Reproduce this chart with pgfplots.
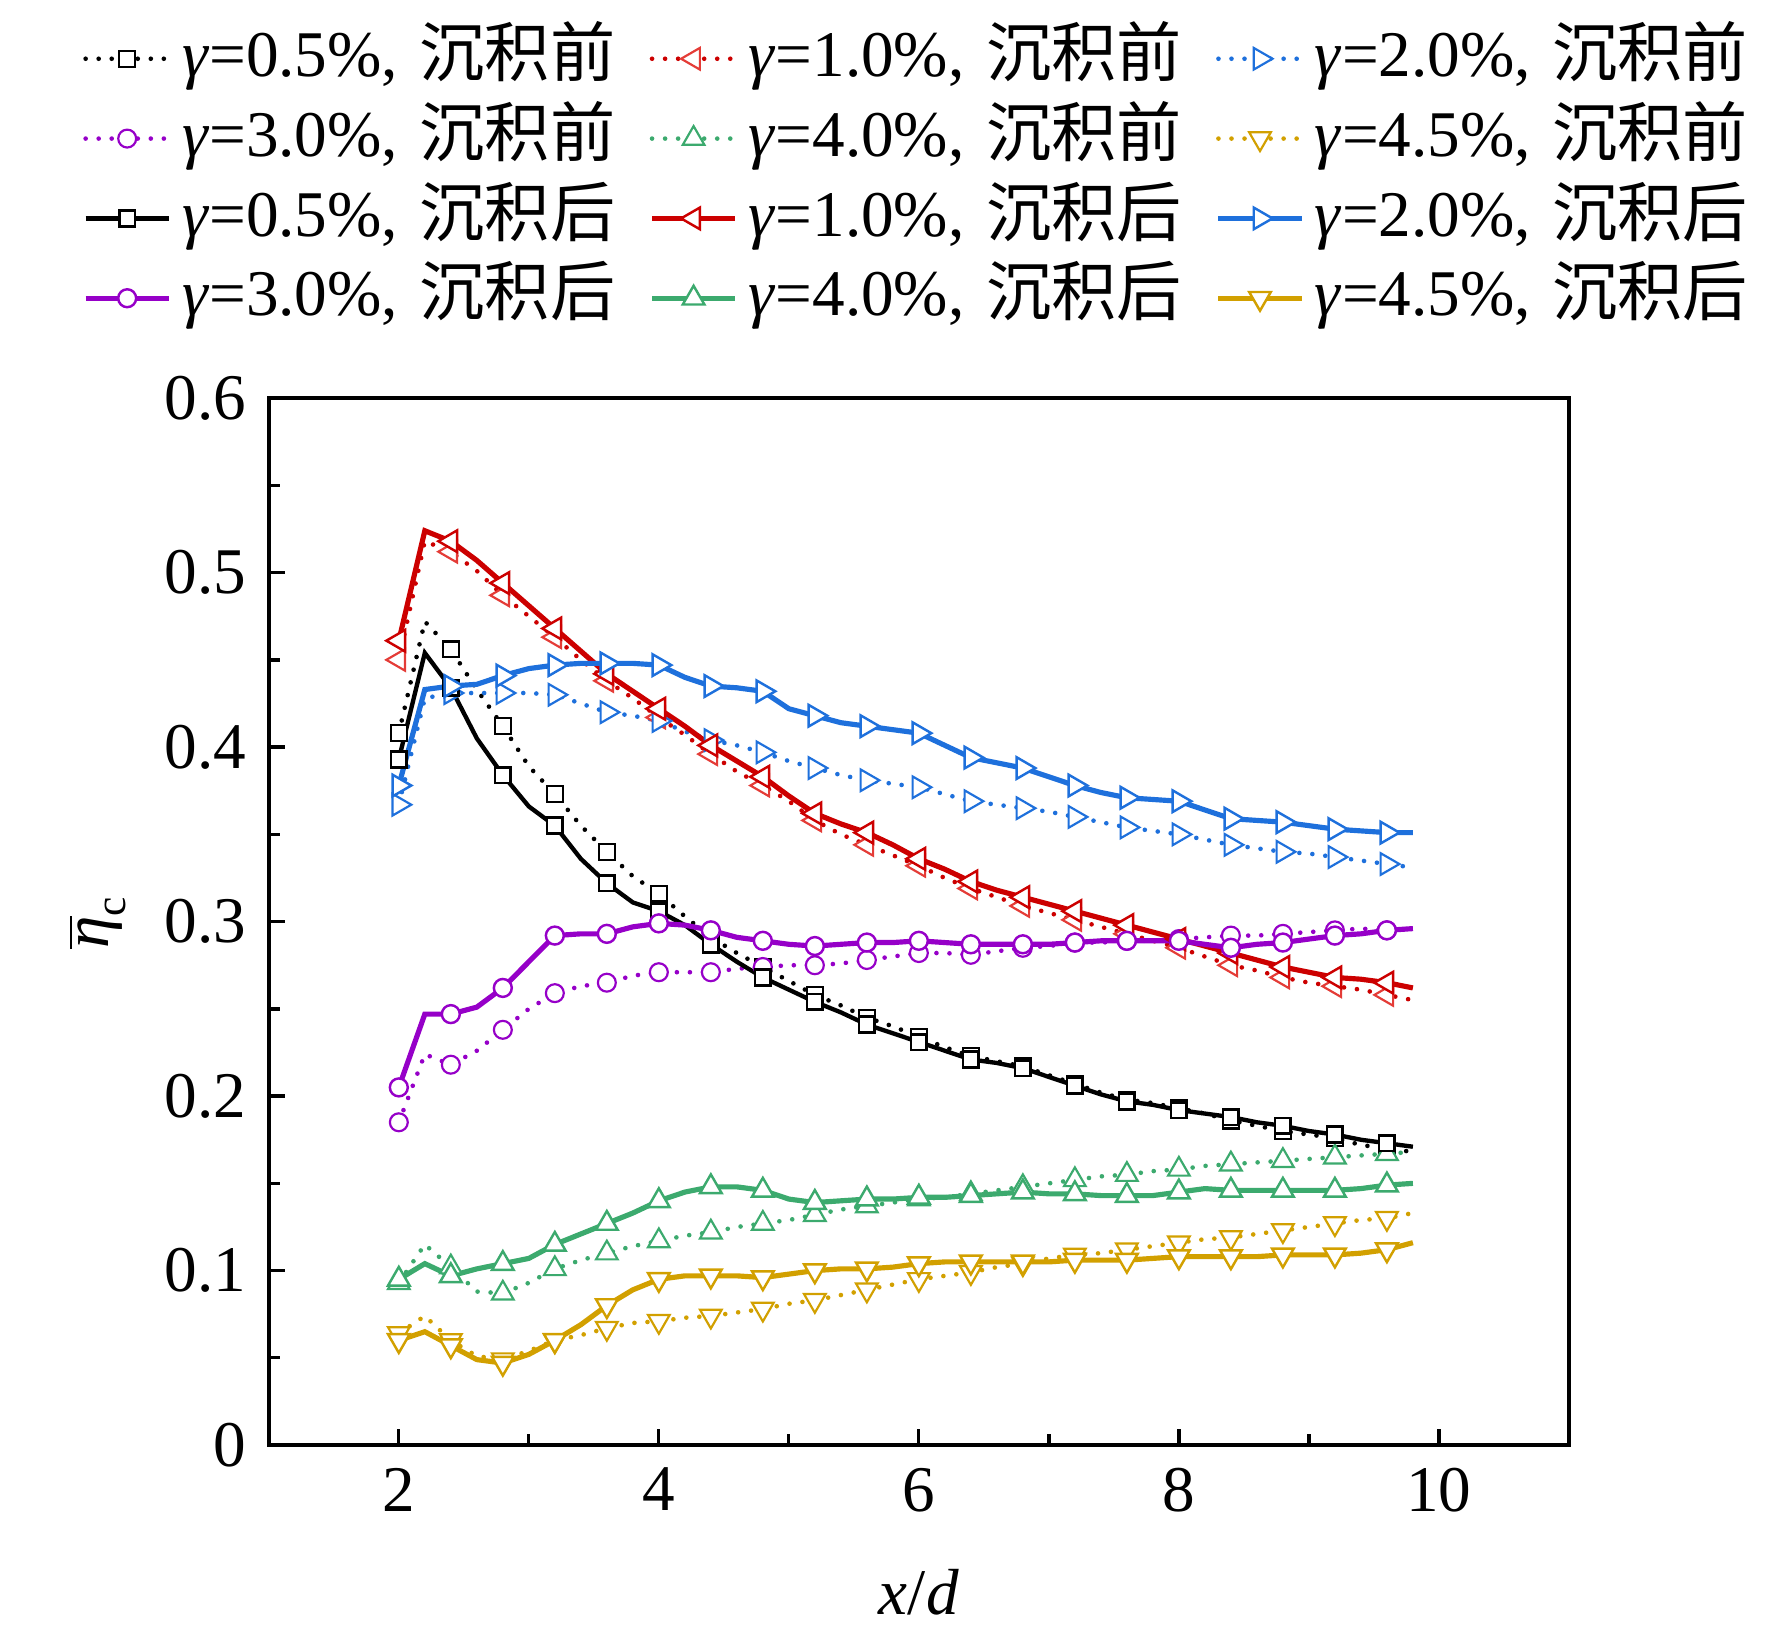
\documentclass[border=0pt,12pt]{standalone}
\usepackage{fontspec}
\setmainfont{Liberation Serif}
\newfontfamily\cjk{Noto Sans CJK SC}
\usepackage{pgfplots}
\usepackage{pgfplotstable}
\pgfplotsset{compat=1.18}

\definecolor{cblack}{RGB}{0,0,0}
\definecolor{cred}{RGB}{204,0,0}
\definecolor{credl}{RGB}{228,60,55}
\definecolor{cblue}{RGB}{30,112,220}
\definecolor{cpurple}{RGB}{150,0,200}
\definecolor{cgreen}{RGB}{60,170,110}
\definecolor{cgold}{RGB}{210,160,0}

\pgfplotstableread{
x   b05   b10   b20   b30   b40   b45   a05   a10   a20   a30   a40   a45
2.0 0.408 0.450 0.367 0.185 0.093 0.064 0.393 0.461 0.378 0.205 0.095 0.060
2.2 0.472 0.518 0.428 0.224 0.115 0.074 0.454 0.524 0.433 0.247 0.104 0.065
2.4 0.456 0.512 0.431 0.218 0.102 0.060 0.434 0.518 0.435 0.247 0.097 0.057
2.6 0.433 0.501 0.431 0.226 0.088 0.051 0.405 0.507 0.436 0.251 0.101 0.049
2.8 0.412 0.487 0.431 0.238 0.087 0.049 0.384 0.494 0.441 0.262 0.104 0.047
3.0 0.389 0.475 0.431 0.250 0.093 0.054 0.366 0.481 0.445 0.277 0.107 0.052
3.2 0.373 0.463 0.430 0.259 0.101 0.060 0.355 0.468 0.447 0.292 0.115 0.060
3.4 0.355 0.450 0.425 0.263 0.106 0.063 0.336 0.455 0.448 0.293 0.121 0.069
3.6 0.340 0.438 0.420 0.265 0.110 0.067 0.322 0.442 0.448 0.293 0.127 0.080
3.8 0.326 0.428 0.418 0.269 0.114 0.070 0.311 0.432 0.448 0.297 0.133 0.089
4.0 0.316 0.417 0.415 0.271 0.117 0.071 0.306 0.422 0.447 0.299 0.140 0.095
4.2 0.303 0.407 0.409 0.271 0.120 0.073 0.298 0.412 0.440 0.298 0.145 0.097
4.4 0.291 0.396 0.404 0.271 0.122 0.074 0.287 0.401 0.435 0.295 0.148 0.097
4.6 0.282 0.386 0.401 0.273 0.125 0.076 0.277 0.392 0.434 0.291 0.148 0.097
4.8 0.274 0.378 0.397 0.274 0.127 0.078 0.268 0.383 0.432 0.289 0.146 0.096
5.0 0.266 0.369 0.392 0.275 0.129 0.081 0.261 0.372 0.422 0.287 0.141 0.098
5.2 0.258 0.358 0.388 0.275 0.132 0.083 0.254 0.362 0.418 0.286 0.139 0.100
5.4 0.252 0.350 0.384 0.276 0.135 0.086 0.248 0.356 0.414 0.287 0.140 0.101
5.6 0.245 0.344 0.381 0.278 0.137 0.089 0.241 0.351 0.412 0.288 0.141 0.101
5.8 0.240 0.338 0.379 0.280 0.139 0.092 0.236 0.344 0.410 0.288 0.141 0.102
6.0 0.234 0.332 0.377 0.282 0.141 0.095 0.231 0.336 0.408 0.289 0.142 0.104
6.2 0.228 0.325 0.373 0.282 0.142 0.097 0.226 0.330 0.401 0.288 0.142 0.105
6.4 0.223 0.319 0.369 0.281 0.144 0.099 0.221 0.323 0.394 0.287 0.143 0.105
6.6 0.220 0.314 0.367 0.283 0.146 0.102 0.219 0.318 0.391 0.287 0.144 0.105
6.8 0.217 0.309 0.365 0.285 0.148 0.104 0.216 0.314 0.388 0.287 0.145 0.105
7.0 0.212 0.305 0.363 0.286 0.150 0.107 0.211 0.310 0.383 0.287 0.144 0.105
7.2 0.207 0.301 0.360 0.288 0.152 0.109 0.206 0.306 0.378 0.288 0.144 0.106
7.4 0.202 0.297 0.357 0.288 0.154 0.110 0.201 0.302 0.374 0.289 0.143 0.106
7.6 0.198 0.293 0.354 0.289 0.155 0.112 0.197 0.298 0.371 0.289 0.143 0.106
7.8 0.196 0.289 0.352 0.289 0.157 0.114 0.195 0.294 0.370 0.289 0.143 0.107
8.0 0.193 0.285 0.350 0.290 0.158 0.116 0.192 0.290 0.369 0.289 0.145 0.108
8.2 0.190 0.280 0.347 0.291 0.160 0.118 0.190 0.286 0.364 0.287 0.147 0.108
8.4 0.186 0.275 0.344 0.292 0.161 0.119 0.188 0.282 0.359 0.285 0.146 0.108
8.6 0.183 0.272 0.342 0.292 0.162 0.121 0.185 0.278 0.358 0.287 0.146 0.108
8.8 0.180 0.268 0.340 0.293 0.163 0.123 0.183 0.274 0.357 0.288 0.146 0.109
9.0 0.178 0.265 0.339 0.294 0.164 0.125 0.180 0.271 0.355 0.290 0.146 0.109
9.2 0.176 0.263 0.337 0.295 0.165 0.127 0.178 0.268 0.353 0.292 0.146 0.109
9.4 0.172 0.261 0.335 0.296 0.166 0.129 0.175 0.267 0.352 0.293 0.147 0.110
9.6 0.170 0.258 0.333 0.295 0.167 0.130 0.173 0.265 0.351 0.295 0.149 0.112
9.8 0.168 0.255 0.331 0.296 0.168 0.133 0.171 0.262 0.351 0.296 0.150 0.116
}\datatable

\pgfplotsset{
  dotsty/.style={line width=0.85pt, line cap=round, dash pattern=on 0pt off 2.4pt},
  solsty/.style={line width=0.95pt, solid},
}

\begin{document}
\begin{tikzpicture}
\path[use as bounding box] (-49.5pt,-35.0pt) rectangle (276.8pt,266.1pt);
\begin{axis}[
  scale only axis,
  width=239.4pt, height=192.8pt,
  xmin=1, xmax=11, ymin=0, ymax=0.6,
  xtick={2,4,6,8,10}, xticklabels={2,4,6,8,10},
  minor xtick={3,5,7,9},
  ytick={0,0.1,0.2,0.3,0.4,0.5,0.6},
  yticklabels={0,0.1,0.2,0.3,0.4,0.5,0.6},
  minor ytick={0.05,0.15,0.25,0.35,0.45,0.55},
  tick pos=left, tick align=inside,
  major tick length=3pt, minor tick length=2pt,
  every tick/.style={black, line width=0.6pt},
  axis line style={line width=0.8pt},
  xlabel={\textit{x}/\textit{d}},
  ylabel={$\overline{\mbox{\itshape η}}_{\mbox{\scriptsize c}}$},
  every axis x label/.style={at={(axis description cs:0.5,0)}, anchor=center, yshift=-27.1pt},
  every axis y label/.style={at={(axis description cs:0,0.5)}, anchor=center, xshift=-31.7pt, rotate=90},
  legend columns=3,
  legend cell align=left,
  legend style={draw=none, fill=none, inner sep=0pt,
    at={(axis description cs:-0.1437,1.3576)}, anchor=north west,
    nodes={inner sep=0pt, text height=9.5pt, text depth=3pt},
    row sep=2.2pt,
    /tikz/every odd column/.append style={column sep=2.0pt},
    /tikz/every even column/.append style={column sep=4.55pt, text width=81.5pt}},
  legend image code/.code={
    \draw[#1,mark repeat=2,mark phase=2] plot coordinates {(0pt,0pt) (7.65pt,0pt) (15.3pt,0pt)};
  },
  mark repeat=2, mark phase=1,
]
% before deposition (dotted)
\addplot[cblack, dotsty, mark=square*, mark size=1.45pt, mark options={solid, fill=white, line width=0.4pt}] table[x=x,y=b05]{\datatable};
\addplot[cred, dotsty, mark=triangle*, mark size=2.3pt, mark options={solid, fill=white, line width=0.4pt, rotate=90, draw=credl}] table[x=x,y=b10]{\datatable};
\addplot[cblue, dotsty, mark=triangle*, mark size=2.3pt, mark options={solid, fill=white, line width=0.4pt, rotate=-90}] table[x=x,y=b20]{\datatable};
\addplot[cpurple, dotsty, mark=*, mark size=1.65pt, mark options={solid, fill=white, line width=0.4pt}] table[x=x,y=b30]{\datatable};
\addplot[cgreen, dotsty, mark=triangle*, mark size=2.3pt, mark options={solid, fill=white, line width=0.4pt}] table[x=x,y=b40]{\datatable};
\addplot[cgold, dotsty, mark=triangle*, mark size=2.3pt, mark options={solid, fill=white, line width=0.4pt, rotate=180}] table[x=x,y=b45]{\datatable};
% after deposition (solid)
\addplot[cblack, solsty, line width=0.8pt, mark=square*, mark size=1.45pt, mark options={solid, fill=white, line width=0.5pt}] table[x=x,y=a05]{\datatable};
\addplot[cred, solsty, mark=triangle*, mark size=2.3pt, mark options={solid, fill=white, line width=0.45pt, rotate=90}] table[x=x,y=a10]{\datatable};
\addplot[cblue, solsty, mark=triangle*, mark size=2.3pt, mark options={solid, fill=white, line width=0.45pt, rotate=-90}] table[x=x,y=a20]{\datatable};
\addplot[cpurple, solsty, mark=*, mark size=1.65pt, mark options={solid, fill=white, line width=0.45pt}] table[x=x,y=a30]{\datatable};
\addplot[cgreen, solsty, mark=triangle*, mark size=2.3pt, mark options={solid, fill=white, line width=0.45pt}] table[x=x,y=a40]{\datatable};
\addplot[cgold, solsty, mark=triangle*, mark size=2.3pt, mark options={solid, fill=white, line width=0.45pt, rotate=180}] table[x=x,y=a45]{\datatable};
\legend{
  {\textit{γ}=0.5\%, \cjk 沉积前},
  {\textit{γ}=1.0\%, \cjk 沉积前},
  {\textit{γ}=2.0\%, \cjk 沉积前},
  {\textit{γ}=3.0\%, \cjk 沉积前},
  {\textit{γ}=4.0\%, \cjk 沉积前},
  {\textit{γ}=4.5\%, \cjk 沉积前},
  {\textit{γ}=0.5\%, \cjk 沉积后},
  {\textit{γ}=1.0\%, \cjk 沉积后},
  {\textit{γ}=2.0\%, \cjk 沉积后},
  {\textit{γ}=3.0\%, \cjk 沉积后},
  {\textit{γ}=4.0\%, \cjk 沉积后},
  {\textit{γ}=4.5\%, \cjk 沉积后}}
\end{axis}
\end{tikzpicture}
\end{document}
